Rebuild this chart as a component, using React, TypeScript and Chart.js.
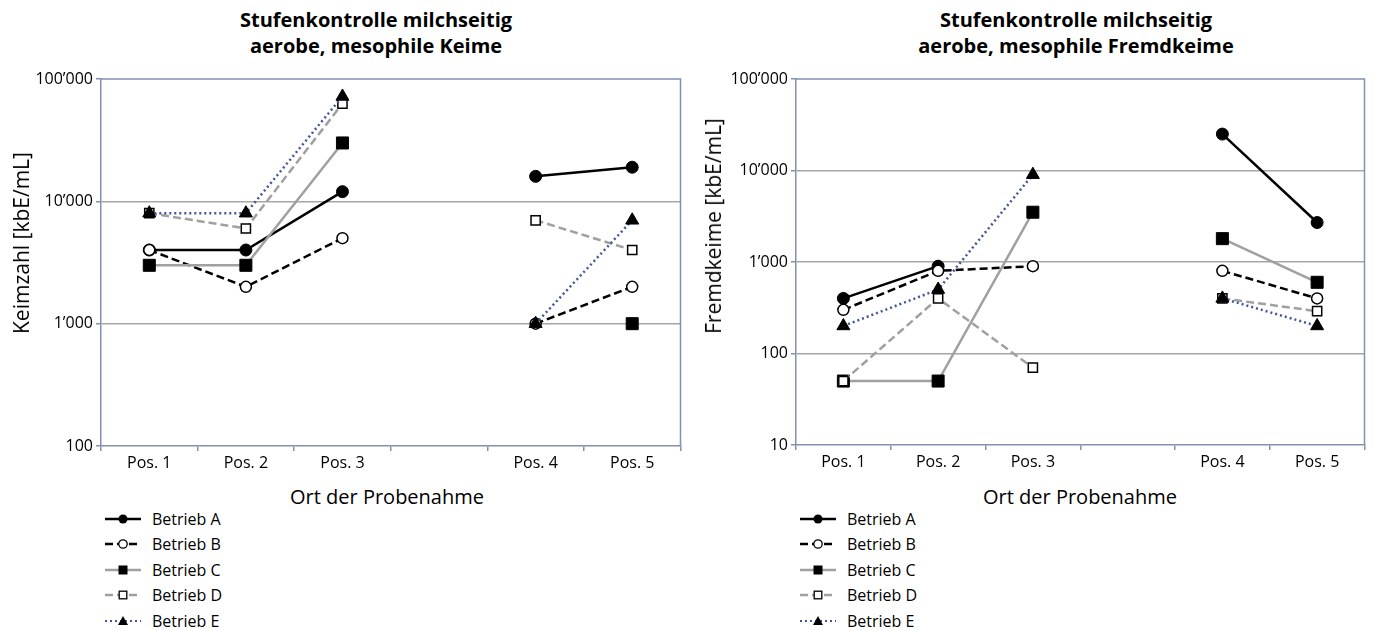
import React, { useEffect, useRef } from 'react';
import { Chart, registerables } from 'chart.js';

Chart.register(...registerables);

// ---------- data ----------
const categories = ['Pos. 1', 'Pos. 2', 'Pos. 3', '', 'Pos. 4', 'Pos. 5'];
const seriesNames = ['Betrieb A', 'Betrieb B', 'Betrieb C', 'Betrieb D', 'Betrieb E'];

// Left chart: aerobe, mesophile Keime (Keimzahl)
const keimA = [4000, 4000, 12000, null, 16000, 19000];
const keimB = [4000, 2000, 5000, null, 1000, 2000];
const keimC = [3000, 3000, 30000, null, null, 1000];
const keimD = [8000, 6000, 63000, null, 7000, 4000];
const keimE = [8000, 8000, 72000, null, 1000, 7000];

// Right chart: aerobe, mesophile Fremdkeime
const fremdA = [400, 900, null, null, 25000, 2700];
const fremdB = [300, 800, 900, null, 800, 400];
const fremdC = [50, 50, 3500, null, 1800, 600];
const fremdD = [50, 400, 70, null, 400, 290];
const fremdE = [200, 500, 9000, null, 400, 200];

const keimTicks = [100, 1000, 10000, 100000];
const keimTickLabels = ['100', '1’000', '10’000', '100’000'];
const fremdTicks = [10, 100, 1000, 10000, 100000];
const fremdTickLabels = ['10', '100', '1’000', '10’000', '100’000'];

// ---------- styles ----------
const AXIS = '#8490b0';
const GRID = '#a6a6a6';
const FONT = '"Open Sans", "Noto Sans", sans-serif';

const seriesStyles = [
  { color: '#000000', dash: [] as number[], pointStyle: 'circle', radius: 6, fill: '#000000', bw: 1, order: 5 },
  { color: '#000000', dash: [8, 4], pointStyle: 'circle', radius: 5.5, fill: '#ffffff', bw: 1.5, order: 4 },
  { color: '#a0a0a0', dash: [] as number[], pointStyle: 'rect', radius: 8.5, fill: '#000000', bw: 1, order: 3 },
  { color: '#a0a0a0', dash: [8, 4], pointStyle: 'rect', radius: 6.5, fill: '#ffffff', bw: 1.5, order: 2 },
  { color: '#44549a', dash: [2, 3], pointStyle: 'triangle', radius: 7.5, fill: '#000000', bw: 1, order: 1 },
];

const framePlugin = {
  id: 'frame',
  beforeDatasetsDraw(chart: any) {
    const { ctx, chartArea } = chart;
    const { left, right, top, bottom } = chartArea;
    ctx.save();
    ctx.strokeStyle = AXIS;
    ctx.lineWidth = 1.5;
    ctx.beginPath();
    ctx.moveTo(left, top);
    ctx.lineTo(right, top);
    ctx.lineTo(right, bottom);
    ctx.stroke();
    ctx.restore();
  },
};

type PanelProps = {
  x0: number;
  w: number;
  h: number;
  plotLeft: number;
  plotRight: number;
  plotTop: number;
  plotBottom: number;
  series: (number | null)[][];
  ticks: number[];
  tickLabels: string[];
  yMin: number;
  yMax: number;
};

function ChartCanvas(p: PanelProps) {
  const ref = useRef<HTMLCanvasElement | null>(null);
  useEffect(() => {
    if (!ref.current) return;
    const yWidth = p.plotLeft - p.x0;
    const xHeight = p.h - p.plotBottom;
    const padRight = p.x0 + p.w - p.plotRight;
    const chart = new Chart(ref.current, {
      type: 'line',
      data: {
        labels: categories,
        datasets: p.series.map((vals, i) => {
          const s = seriesStyles[i];
          return {
            label: seriesNames[i],
            data: vals,
            borderColor: s.color,
            borderWidth: 2.5,
            borderDash: s.dash,
            borderCapStyle: 'butt',
            tension: 0,
            spanGaps: false,
            fill: false,
            pointStyle: s.pointStyle,
            pointRadius: s.radius,
            pointBackgroundColor: s.fill,
            pointBorderColor: '#000000',
            pointBorderWidth: s.bw,
            order: s.order,
            clip: false,
          } as any;
        }),
      },
      options: {
        responsive: false,
        maintainAspectRatio: false,
        animation: false,
        devicePixelRatio: 1,
        layout: { padding: { top: p.plotTop, left: 0, right: padRight, bottom: 0 } },
        plugins: {
          legend: { display: false },
          title: { display: false },
          tooltip: { enabled: false },
        },
        scales: {
          x: {
            type: 'category',
            offset: true,
            grid: {
              offset: true,
              drawOnChartArea: false,
              drawTicks: true,
              tickLength: 5,
              tickColor: AXIS,
              lineWidth: 1.5,
            },
            border: { color: AXIS, width: 1.5 },
            ticks: {
              color: '#000000',
              font: { family: FONT, size: 16 },
              padding: 3,
              maxRotation: 0,
              autoSkip: false,
            },
            afterFit: (s: any) => {
              s.height = xHeight;
            },
          },
          y: {
            type: 'logarithmic',
            min: p.yMin,
            max: p.yMax,
            afterBuildTicks: (s: any) => {
              s.ticks = p.ticks.map((v) => ({ value: v }));
            },
            ticks: {
              color: '#000000',
              font: { family: FONT, size: 16 },
              padding: 3,
              callback: (_v: any, i: number) => p.tickLabels[i],
            },
            grid: {
              color: (ctx: any) =>
                ctx.tick && (ctx.tick.value === p.yMin || ctx.tick.value === p.yMax)
                  ? 'rgba(0,0,0,0)'
                  : GRID,
              tickColor: AXIS,
              tickLength: 5,
              lineWidth: 1.5,
            },
            border: { color: AXIS, width: 1.5 },
            afterFit: (s: any) => {
              s.width = yWidth;
            },
          },
        },
      } as any,
      plugins: [framePlugin],
    });
    return () => chart.destroy();
  }, []);
  return (
    <canvas
      ref={ref}
      width={p.w}
      height={p.h}
      style={{ position: 'absolute', left: p.x0, top: 0, width: p.w, height: p.h }}
    />
  );
}

function LegendSymbol({ i }: { i: number }) {
  const s = seriesStyles[i];
  const cx = 18;
  const cy = 8;
  let marker: any = null;
  if (i === 0) marker = <circle cx={cx} cy={cy} r={4.5} fill="#000" />;
  if (i === 1) marker = <circle cx={cx} cy={cy} r={4.2} fill="#fff" stroke="#000" strokeWidth={1.3} />;
  if (i === 2) marker = <rect x={cx - 4.5} y={cy - 4.5} width={9} height={9} fill="#000" />;
  if (i === 3) marker = <rect x={cx - 3.8} y={cy - 3.8} width={7.6} height={7.6} fill="#fff" stroke="#000" strokeWidth={1.3} />;
  if (i === 4) marker = <polygon points={`${cx},${cy - 5} ${cx + 5},${cy + 4} ${cx - 5},${cy + 4}`} fill="#000" />;
  return (
    <svg width={36} height={16} style={{ display: 'block' }}>
      <line
        x1={0}
        y1={cy}
        x2={36}
        y2={cy}
        stroke={s.color}
        strokeWidth={i === 4 ? 2 : 2.5}
        strokeDasharray={s.dash.length ? s.dash.join(' ') : undefined}
      />
      {marker}
    </svg>
  );
}

function Legend({ left, top }: { left: number; top: number }) {
  return (
    <div style={{ position: 'absolute', left, top }}>
      {seriesNames.map((n, i) => (
        <div key={n} style={{ display: 'flex', alignItems: 'center', height: 25.5 }}>
          <LegendSymbol i={i} />
          <span style={{ marginLeft: 11, fontSize: 16, lineHeight: '20px' }}>{n}</span>
        </div>
      ))}
    </div>
  );
}

function Panel(props: {
  x0: number;
  w: number;
  plotLeft: number;
  plotRight: number;
  plotBottom: number;
  titleCx: number;
  titleLines: string[];
  yTitle: string;
  yTitleCx: number;
  yTitleCy: number;
  xTitleCx: number;
  legendLeft: number;
  series: (number | null)[][];
  ticks: number[];
  tickLabels: string[];
  yMin: number;
  yMax: number;
}) {
  return (
    <>
      <div
        style={{
          position: 'absolute',
          left: props.titleCx - 250,
          width: 500,
          top: 7,
          textAlign: 'center',
          fontWeight: 700,
          fontSize: 20,
          lineHeight: '26px',
        }}
      >
        {props.titleLines[0]}
        <br />
        {props.titleLines[1]}
      </div>
      <ChartCanvas
        x0={props.x0}
        w={props.w}
        h={480}
        plotLeft={props.plotLeft}
        plotRight={props.plotRight}
        plotTop={79}
        plotBottom={props.plotBottom}
        series={props.series}
        ticks={props.ticks}
        tickLabels={props.tickLabels}
        yMin={props.yMin}
        yMax={props.yMax}
      />
      <div
        style={{
          position: 'absolute',
          left: props.yTitleCx,
          top: props.yTitleCy,
          transform: 'translate(-50%, -50%) rotate(-90deg)',
          fontSize: 21,
          lineHeight: '24px',
          whiteSpace: 'nowrap',
        }}
      >
        {props.yTitle}
      </div>
      <div
        style={{
          position: 'absolute',
          left: props.xTitleCx - 200,
          width: 400,
          top: 485,
          textAlign: 'center',
          fontSize: 20,
          lineHeight: '24px',
        }}
      >
        Ort der Probenahme
      </div>
      <Legend left={props.legendLeft} top={506} />
    </>
  );
}

export default function App() {
  return (
    <div
      style={{
        position: 'absolute',
        left: 0,
        top: 0,
        width: 1374,
        height: 631,
        overflow: 'hidden',
        background: '#ffffff',
        color: '#000000',
        fontFamily: FONT,
      }}
    >
      <Panel
        x0={0}
        w={690}
        plotLeft={101}
        plotRight={683}
        plotBottom={446}
        titleCx={376}
        titleLines={['Stufenkontrolle milchseitig', 'aerobe, mesophile Keime']}
        yTitle="Keimzahl [kbE/mL]"
        yTitleCx={21}
        yTitleCy={243}
        xTitleCx={387}
        legendLeft={105}
        series={[keimA, keimB, keimC, keimD, keimE]}
        ticks={keimTicks}
        tickLabels={keimTickLabels}
        yMin={100}
        yMax={100000}
      />
      <Panel
        x0={690}
        w={684}
        plotLeft={796}
        plotRight={1372}
        plotBottom={445}
        titleCx={1076}
        titleLines={['Stufenkontrolle milchseitig', 'aerobe, mesophile Fremdkeime']}
        yTitle="Fremdkeime [kbE/mL]"
        yTitleCx={713}
        yTitleCy={226}
        xTitleCx={1080}
        legendLeft={800}
        series={[fremdA, fremdB, fremdC, fremdD, fremdE]}
        ticks={fremdTicks}
        tickLabels={fremdTickLabels}
        yMin={10}
        yMax={100000}
      />
    </div>
  );
}
